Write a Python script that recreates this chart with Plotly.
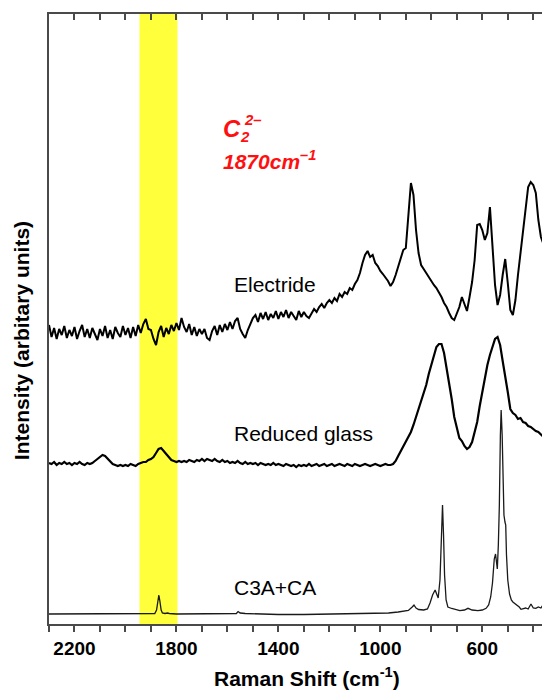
import plotly.graph_objects as go

# ---------------- data ----------------
# Raman shift sampling grid for the two noisy spectra (cm^-1), 2300 -> 310, step 10
shift_grid = list(range(2300, 300, -10))

# Electride spectrum (arbitrary units), one row per 100 cm^-1
electride = [
    300, 288, 297, 286, 296, 290, 299, 287, 295, 289,   # 2300-2210
    298, 286, 294, 300, 288, 296, 287, 297, 291, 285,   # 2200-2110
    296, 289, 299, 287, 295, 286, 298, 292, 288, 299,   # 2100-2010
    290, 297, 287, 298, 289, 300, 292, 301, 306, 296,   # 2000-1910
    295, 286, 280, 293, 299, 288, 297, 291, 300, 294,   # 1900-1810
    302, 295, 307, 298, 293, 301, 290, 298, 289, 296,   # 1800-1710
    291, 296, 287, 285, 294, 299, 290, 300, 293, 301,   # 1700-1610
    295, 303, 296, 304, 307, 296, 291, 287, 295, 301,   # 1600-1510
    307, 310, 303, 312, 306, 313, 305, 311, 307, 314,   # 1500-1410
    306, 313, 308, 315, 307, 313, 309, 305, 314, 308,   # 1400-1310
    313, 309, 307, 311, 316, 313, 318, 321, 317, 322,   # 1300-1210
    325, 322, 327, 324, 331, 328, 333, 331, 337, 335,   # 1200-1110
    341, 345, 352, 362, 370, 374, 368, 370, 362, 359,   # 1100-1010
    354, 351, 348, 344, 339, 343, 350, 358, 367, 375,   # 1000-910
    377, 410, 442, 430, 395, 372, 360, 356, 352, 348,   # 900-810
    343, 340, 337, 333, 328, 322, 318, 312, 307, 305,   # 800-710
    312, 318, 328, 320, 314, 328, 343, 365, 400, 401,   # 700-610
    395, 385, 392, 418, 378, 340, 320, 330, 350, 366,   # 600-510
    342, 315, 310, 325, 350, 372, 392, 412, 438, 443,   # 500-410
    440, 432, 405, 388, 381, 378, 375, 372, 370, 368,   # 400-310
]

# Reduced glass spectrum (arbitrary units)
reduced_glass = [
    162, 161, 163, 160, 162, 161, 163, 161, 162, 160,   # 2300-2210
    162, 161, 163, 161, 160, 162, 161, 162, 164, 166,   # 2200-2110
    168, 170, 169, 166, 163, 161, 160, 159, 160, 159,   # 2100-2010
    160, 159, 161, 160, 159, 161, 162, 163, 163, 165,   # 2000-1910
    166, 168, 172, 176, 177, 174, 170, 167, 165, 164,   # 1900-1810
    163, 164, 163, 164, 163, 165, 164, 163, 165, 164,   # 1800-1710
    166, 164, 166, 165, 164, 166, 164, 163, 165, 163,   # 1700-1610
    164, 162, 163, 162, 164, 162, 161, 163, 161, 162,   # 1600-1510
    161, 162, 160, 162, 161, 160, 161, 160, 162, 160,   # 1500-1410
    161, 160, 159, 161, 160, 159, 160, 158, 160, 159,   # 1400-1310
    160, 159, 161, 159, 160, 161, 159, 160, 161, 159,   # 1300-1210
    160, 161, 159, 160, 161, 160, 159, 161, 160, 159,   # 1200-1110
    161, 160, 159, 160, 161, 160, 159, 160, 161, 160,   # 1100-1010
    159, 160, 161, 160, 160, 161, 164, 169, 174, 179,   # 1000-910
    183, 188, 193, 200, 208, 215, 223, 231, 240, 251,   # 900-810
    261, 271, 278, 281, 281, 272, 258, 243, 226, 208,   # 800-710
    196, 187, 184, 179, 176, 178, 183, 192, 203, 219,   # 700-610
    233, 246, 260, 270, 279, 286, 288, 280, 264, 250,   # 600-510
    233, 216, 212, 210, 206, 207, 203, 202, 199, 198,   # 500-410
    196, 194, 193, 190, 188, 187, 186, 185, 184, 183,   # 400-310
]

# C3A+CA reference spectrum (sparse, sharp peaks)
c3a_shift = [2300, 2100, 1900, 1885, 1878, 1873, 1869, 1865, 1860, 1855, 1845, 1835,
             1828, 1800, 1700, 1600, 1565, 1558, 1550, 1530, 1400, 1300, 1100, 1000,
             968, 930, 890, 875, 868, 860, 850, 830, 815, 805, 795, 785, 778, 773,
             766, 760, 756, 752, 748, 742, 735, 720, 700, 688, 670, 656, 640, 617,
             600, 585, 575, 567, 560, 553, 548, 544, 541, 537, 533, 529, 526, 522,
             519, 515, 511, 508, 505, 500, 493, 486, 480, 470, 461, 455, 448, 440,
             430, 420, 409, 400, 390, 380, 370, 362, 357, 350]
c3a_int = [11, 11, 11, 11.5, 15, 24, 30, 24, 15, 12, 11.5, 12,
           11.5, 11, 11, 11, 11.5, 13.5, 12, 11.5, 10.5, 10.5, 11, 11.5,
           12, 13, 14.5, 18, 20, 17, 15.5, 15, 16, 22, 30, 35, 30, 27,
           45, 90, 120, 90, 50, 25, 18, 16.5, 15, 14.3, 15, 16.7, 15, 14.3,
           15, 16.7, 20, 28, 42, 66, 71, 60, 56, 80, 120, 190, 215, 190,
           160, 110, 103, 100, 70, 45, 31, 25, 23, 21, 20, 18, 15.7, 16,
           17, 16, 21, 17, 16.7, 18, 17, 20, 23, 22]

series_labels = ["Electride", "Reduced glass", "C3A+CA"]
label_shift = 1581
label_level = [341, 192, 38]

band_low, band_high = 1796, 1945
x_range = [2300, 350]
y_range = [1, 611]
tick_all = list(range(2300, 300, -100))
tick_labeled = [2200, 1800, 1400, 1000, 600]

assert len(shift_grid) == len(electride) == len(reduced_glass)
assert len(c3a_shift) == len(c3a_int)

# ---------------- figure ----------------
FONT = "Liberation Sans, Arial, Helvetica, sans-serif"
AXC = "#4a4a4a"

fig = go.Figure()
fig.add_trace(go.Scatter(x=shift_grid, y=electride, mode="lines",
                         line=dict(color="black", width=2.0), showlegend=False))
fig.add_trace(go.Scatter(x=shift_grid, y=reduced_glass, mode="lines",
                         line=dict(color="black", width=2.2), showlegend=False))
fig.add_trace(go.Scatter(x=c3a_shift, y=c3a_int, mode="lines", xaxis="x2",
                         line=dict(color="#1a1a1a", width=1.3), showlegend=False))

fig.add_vrect(x0=band_low, x1=band_high, fillcolor="#ffff3c", opacity=1,
              line_width=0, layer="below")

minor_vals = [v for v in tick_all if v not in tick_labeled]

# page body has an 8px margin: size and margins compensate so the plot area
# lands where the reference has it
fig.update_layout(
    width=542, height=687,
    margin=dict(l=41, r=2, t=6, b=71),
    paper_bgcolor="white", plot_bgcolor="white",
    font=dict(family=FONT, color="black"),
    xaxis=dict(range=x_range, tickmode="array", tickvals=tick_labeled,
               ticktext=[str(v) for v in tick_labeled],
               ticks="outside", ticklen=6, tickwidth=1.5, tickcolor=AXC,
               minor=dict(tickmode="array", tickvals=minor_vals, ticks="outside",
                          ticklen=6, tickwidth=1.5, tickcolor=AXC, showgrid=False),
               showline=True, linecolor=AXC, linewidth=2, mirror=True,
               showgrid=False, zeroline=False,
               tickfont=dict(family=FONT, size=19, color="black", weight="bold")),
    xaxis2=dict(range=x_range, overlaying="x", side="top", tickmode="array",
                tickvals=tick_all,
                ticks="inside", ticklen=6, tickwidth=1.5, tickcolor=AXC,
                showticklabels=False, showline=False, showgrid=False, zeroline=False),
    yaxis=dict(range=y_range, showticklabels=False, ticks="", showline=True,
               linecolor=AXC, linewidth=2, mirror=True, showgrid=False, zeroline=False),
)

ann = []
for name, lvl in zip(series_labels, label_level):
    ann.append(dict(x=label_shift, y=lvl, xref="x", yref="y", text=name,
                    showarrow=False, xanchor="left", yanchor="middle",
                    font=dict(family=FONT, size=21, color="black")))

# axis titles
ann.append(dict(x=0.519, y=-0.0869, xref="paper", yref="paper",
                text="Raman Shift (cm<sup>-1</sup>)", showarrow=False,
                xanchor="center", yanchor="middle",
                font=dict(family=FONT, size=21, color="black", weight="bold")))
ann.append(dict(x=-0.0561, y=0.4639, xref="paper", yref="paper",
                text="Intensity (arbitary units)", showarrow=False, textangle=-90,
                xanchor="center", yanchor="middle",
                font=dict(family=FONT, size=21, color="black", weight="bold")))

# red C2^2- annotation
RED = "#ff1010"
ann.append(dict(x=0.3467, y=0.8126, xref="paper", yref="paper", text="C",
                showarrow=False, xanchor="left", yanchor="middle",
                font=dict(family=FONT, size=24, color=RED, weight="bold", style="italic")))
ann.append(dict(x=0.3808, y=0.7989, xref="paper", yref="paper", text="2",
                showarrow=False, xanchor="left", yanchor="middle",
                font=dict(family=FONT, size=15, color=RED, weight="bold", style="italic")))
ann.append(dict(x=0.3888, y=0.8270, xref="paper", yref="paper", text="2–",
                showarrow=False, xanchor="left", yanchor="middle",
                font=dict(family=FONT, size=15, color=RED, weight="bold", style="italic")))
ann.append(dict(x=0.3461, y=0.7600, xref="paper", yref="paper",
                text="1870cm<sup>–1</sup>", showarrow=False,
                xanchor="left", yanchor="middle",
                font=dict(family=FONT, size=21, color=RED, weight="bold", style="italic")))

fig.update_layout(annotations=ann)
fig.write_html("out.html")
